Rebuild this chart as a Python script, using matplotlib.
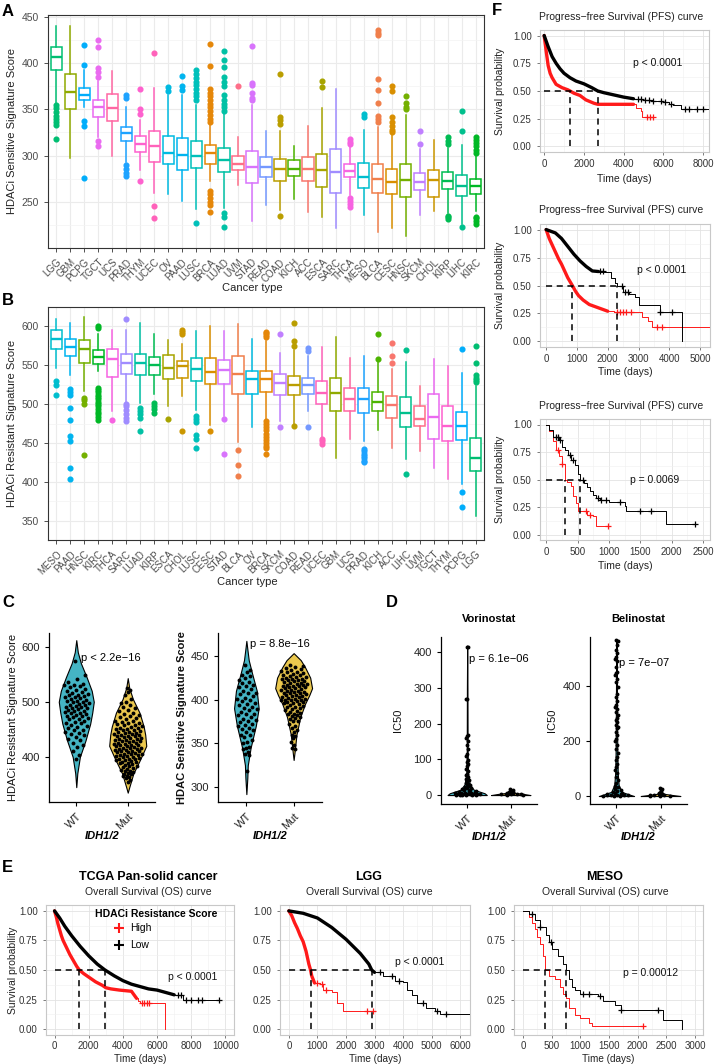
import numpy as np
import matplotlib.pyplot as plt

plt.rcParams['font.family'] = ['Liberation Sans', 'DejaVu Sans']
M = '\u2212'
W, H = 714, 1064

# ---------------- panel A : HDACi sensitive signature ----------------
a_types = ['LGG', 'GBM', 'PCPG', 'TGCT', 'UCS', 'PRAD', 'THYM', 'UCEC', 'OV', 'PAAD', 'LUSC',
           'BRCA', 'LUAD', 'UVM', 'STAD', 'READ', 'COAD', 'KICH', 'ACC', 'ESCA', 'SARC', 'THCA',
           'MESO', 'BLCA', 'CESC', 'HNSC', 'SKCM', 'CHOL', 'KIRP', 'LIHC', 'KIRC']
a_med = [407, 368.5, 366, 352.7, 351, 324, 313, 310, 303, 301, 300, 302.5, 295, 291, 287.2, 288,
         285, 285, 285, 284, 282, 283.8, 276.6, 275, 271.9, 273.7, 271.9, 273.3, 272, 267.5, 266.7]
a_q1 = [392, 350, 360, 342, 337.6, 316, 304, 293.5, 291, 284.6, 286.5, 291, 282, 284, 270.5, 277,
        273, 277.7, 273, 266, 259, 276.3, 264.8, 260, 258.1, 254.7, 263, 255.4, 263.6, 256.4, 258]
a_q3 = [417, 388.5, 373.5, 360, 367, 331, 321, 327, 321, 318.6, 316, 311, 308, 299, 305.1, 298.4,
        296.3, 295.6, 298.4, 302, 307, 291, 292, 290.4, 285.7, 291, 281.4, 284, 282.2, 278.6, 275]
a_lo = [357, 297, 352, 320, 299.6, 293, 284, 259, 258, 250.5, 242, 272, 243, 268, 229, 247,
        241, 252.6, 239, 233, 222, 257, 236, 217, 222, 213, 236, 240, 238, 226, 240]
a_hi = [440, 440, 393, 381, 391, 353, 338, 373, 366, 365, 354.5, 334, 345.5, 320, 355, 326,
        326, 310.5, 332, 351, 372, 310, 328, 331, 322, 344, 307, 317, 308, 311.5, 300.6]
a_out = [[355, 351, 347, 343, 339, 336, 333, 318], [], [420, 398, 337, 332, 276],
         [425, 417, 395, 390, 385, 316, 310], [], [365, 362, 290, 285, 281, 278],
         [372, 350, 345, 273], [411, 245, 232], [374, 370], [386, 375, 371],
         [392, 388, 384, 380, 376, 372, 368, 364, 360, 227],
         [421, 397, 372, 368, 364, 360, 356, 352, 348, 344, 340, 336, 262, 258, 254, 250, 246, 239],
         [413, 403, 396, 385, 380, 375, 365, 360, 356, 352, 348, 238, 233, 223],
         [375], [418, 378, 376, 368, 362, 360], [], [388, 342, 338, 334, 235], [], [], [381, 374], [],
         [318, 315, 312.5, 254, 251, 248, 244], [345, 342],
         [436, 433, 430, 383, 371, 357, 343, 340, 336], [375, 370, 342, 336, 332, 328, 325],
         [364, 357, 353, 350], [326, 313], [], [320, 316, 312, 235, 233, 231], [348, 326, 223],
         [320, 317, 314, 310, 306, 303, 234, 232, 229, 226]]

# ---------------- panel B : HDACi resistant signature ----------------
b_types = ['MESO', 'PAAD', 'HNSC', 'KIRC', 'THCA', 'SARC', 'LUAD', 'KIRP', 'ESCA', 'CHOL', 'LUSC',
           'CESC', 'STAD', 'BLCA', 'OV', 'BRCA', 'SKCM', 'COAD', 'READ', 'UCEC', 'GBM', 'UCS',
           'PRAD', 'KICH', 'ACC', 'LIHC', 'UVM', 'TGCT', 'THYM', 'PCPG', 'LGG']
b_med = [583.5, 574, 571, 561, 558.5, 553, 552.4, 550, 547, 549, 545.6, 540.7, 543.5, 538.7, 532.2,
         532.2, 527.4, 524.6, 524.2, 514.5, 514.9, 506, 506, 502.4, 499.2, 489.1, 480.3, 483.9,
         472.2, 471.8, 430]
b_q1 = [570.6, 562.5, 553, 551.6, 535.5, 539, 537, 537.5, 532, 533.5, 529.4, 526, 526, 513, 512.4,
        515.3, 512, 512, 513.3, 500, 491, 491, 489, 491, 482.2, 470.2, 472.2, 454.8, 453, 453.2, 414]
b_q3 = [594.8, 584, 582, 569, 570.6, 565, 565, 561, 563, 555.6, 559, 559.7, 557, 562.5, 542.7,
        542.7, 538.7, 536.7, 533.5, 529.4, 533.5, 520.2, 520.6, 515.3, 510.5, 508.5, 497.2, 512.5,
        497.2, 489.9, 456.5]
b_lo = [546, 537.5, 516.5, 542, 491, 503, 501, 513, 497, 511, 493, 473, 485, 451, 470.9, 481,
        477.7, 473, 490.6, 458, 431, 455, 452, 466, 444, 428.7, 439, 417.6, 403, 396.7, 356.4]
b_hi = [610, 604, 612, 590, 596, 596, 604, 590, 582, 578, 594, 601, 594, 603, 583.8, 581.8, 565.7,
        569.8, 561.7, 573, 585.8, 559.6, 561.7, 559.6, 545.6, 553.6, 523.4, 557.6, 549.6, 540.3, 523.4]
b_out = [[530, 525, 512], [520, 516, 512, 495, 480, 459, 452, 418, 404], [508, 505, 500, 435],
         [600, 598, 521, 518, 515, 512, 509, 506, 503, 500, 497, 494, 490, 487, 484, 480], [479],
         [610, 500, 497, 493, 487, 482, 478], [495, 491, 487, 482, 465], [502, 498, 494, 488], [481],
         [596, 593, 590, 465], [485, 481, 477, 460, 455, 444], [465], [481, 436], [441, 421, 407], [],
         [593, 591, 589, 587, 478, 474, 470, 466, 462, 458, 454, 450, 446, 444, 436], [590, 471],
         [605, 581, 575, 471.9], [571.8, 568.5, 470.9], [455, 452, 448], [], [],
         [442, 439, 436, 433, 430, 427, 425], [590, 558], [579, 562.5, 552.8], [569.7, 410], [], [], [],
         [571, 387, 368], [575, 553, 538, 534, 531, 528]]

# ---------------- panel C : violins by IDH1/2 status ----------------
c1_wt_vy = [345, 370, 400, 430, 460, 480, 500, 520, 545, 570, 590, 612]
c1_wt_vw = [0, 0.02, 0.07, 0.18, 0.27, 0.31, 0.34, 0.3, 0.2, 0.09, 0.03, 0]
c1_mut_vy = [335, 345, 370, 395, 420, 440, 455, 480, 505, 525, 543]
c1_mut_vw = [0, 0.03, 0.11, 0.24, 0.36, 0.34, 0.31, 0.23, 0.1, 0.03, 0]
c2_wt_vy = [292, 310, 325, 345, 370, 390, 410, 430, 445, 458, 467]
c2_wt_vw = [0, 0.02, 0.03, 0.09, 0.2, 0.26, 0.22, 0.12, 0.05, 0.02, 0]
c2_mut_vy = [331, 340, 360, 380, 395, 405, 413, 425, 437, 445, 453]
c2_mut_vw = [0, 0.02, 0.06, 0.14, 0.24, 0.33, 0.39, 0.35, 0.24, 0.15, 0]

c1_wt_pts = [575, 548, 541, 536, 533, 531, 530, 528, 526, 523, 521, 519, 517, 516, 515, 513, 512,
             510, 509, 508, 507, 505, 503, 502, 501, 500, 499, 497, 496, 495, 494, 493, 491, 490,
             489, 488, 487, 485, 484, 483, 482, 480, 479, 477, 476, 475, 474, 472, 470, 469, 468,
             466, 463, 462, 461, 458, 456, 455, 452, 449, 448, 446, 443, 441, 440, 436, 433, 431,
             426, 421, 418, 410, 404, 397]
c1_mut_pts = [525, 522, 517, 512, 505, 500, 497, 494, 491, 488, 485, 483, 480, 478, 476, 474, 472,
              470, 468, 466, 465, 463, 462, 461, 460, 458, 457, 456, 455, 453, 452, 451, 450, 449,
              448, 447, 446, 445, 444, 443, 442, 441, 440, 439, 438, 437, 437, 436, 435, 434, 433,
              432, 431, 430, 429, 429, 428, 427, 426, 425, 424, 423, 422, 421, 421, 420, 419, 418,
              417, 416, 416, 415, 414, 413, 412, 411, 411, 410, 409, 408, 407, 406, 406, 405, 404,
              403, 402, 401, 400, 399, 398, 397, 396, 396, 395, 394, 393, 391, 390, 389, 388, 387,
              386, 384, 383, 381, 380, 378, 377, 375, 374, 372, 371, 369, 368, 366, 365, 363, 361,
              358, 355]
c2_wt_pts = [440, 434, 431, 428, 427, 425, 422, 420, 419, 417, 415, 414, 412, 410, 408, 407, 406,
             404, 402, 401, 400, 398, 396, 395, 394, 392, 390, 389, 388, 386, 384, 383, 382, 380,
             378, 377, 376, 374, 372, 371, 370, 368, 366, 365, 363, 360, 359, 357, 354, 352, 350,
             346, 345, 343, 340, 338, 337, 318]
c2_mut_pts = [440, 438, 437, 436, 435, 434, 433, 432, 431, 430, 429, 428, 428, 427, 426, 426, 425,
              424, 424, 423, 422, 422, 421, 421, 420, 419, 419, 418, 418, 417, 417, 416, 415, 415,
              414, 414, 413, 413, 412, 411, 411, 410, 410, 409, 409, 408, 407, 407, 406, 405, 405,
              404, 404, 403, 403, 402, 401, 401, 400, 400, 399, 399, 398, 397, 397, 396, 396, 395,
              394, 393, 392, 391, 390, 389, 388, 387, 386, 385, 384, 383, 382, 381, 380, 379, 378,
              376, 375, 372, 370, 368, 365, 363, 360, 358, 356, 352, 348, 345, 343]

# ---------------- panel D : IC50 ----------------
vor_wt_vy = [0, 5, 15, 30, 60, 120, 200, 300, 418]
vor_wt_vw = [0.45, 0.4, 0.15, 0.06, 0.02, 0.01, 0.008, 0.006, 0]
vor_mut_vy = [0, 3, 6, 10, 16]
vor_mut_vw = [0.45, 0.3, 0.1, 0.04, 0]
bel_wt_vy = [0, 5, 15, 40, 80, 150, 250, 400, 570]
bel_wt_vw = [0.4, 0.3, 0.12, 0.05, 0.03, 0.02, 0.015, 0.01, 0]
bel_mut_vy = [0, 3, 8, 15, 28]
bel_mut_vw = [0.45, 0.3, 0.08, 0.03, 0]

vor_wt_pts = [415, 413, 270, 268, 168, 165, 160, 152, 140, 128, 115, 110, 98, 92, 88, 80, 74, 66,
              60, 55, 50, 46, 42, 38, 35, 32, 30, 28, 25, 23, 21, 19, 17, 15, 13, 12, 10, 9, 8, 7,
              6, 5, 5, 4, 4, 3, 3, 2, 2, 2, 1, 1, 1, 0.5, 0.5, 0.3]
vor_mut_pts = [16, 13, 11, 9, 8, 7, 6, 5, 4, 3, 3, 2, 2, 1, 1]
bel_wt_pts = [568, 565, 548, 532, 520, 505, 498, 492, 470, 452, 447, 440, 425, 416, 398, 372, 360,
              345, 331, 325, 318, 305, 296, 285, 277, 270, 258, 252, 247, 234, 222, 207, 200, 185,
              172, 155, 142, 130, 118, 104, 94, 82, 70, 57, 46, 38, 33, 27, 22, 18, 15, 12, 10, 8,
              6, 5, 4, 3, 2, 2, 1, 1, 0.5]
bel_mut_pts = [28, 24, 18, 12, 9, 6, 4, 3, 2, 1, 1, 0.5]

# ---------------- panel E : overall survival ----------------
e1_hi_t = [0, 100, 200, 300, 400, 500, 700, 900, 1100, 1300, 1450, 1700, 2000, 2400, 2800, 3000,
           3300, 3800, 4500, 4700, 4900, 5000, 6400, 6450]
e1_hi_s = [1, 0.95, 0.89, 0.84, 0.79, 0.75, 0.69, 0.63, 0.58, 0.53, 0.50, 0.47, 0.44, 0.40, 0.37,
           0.35, 0.34, 0.33, 0.32, 0.28, 0.24, 0.22, 0.22, 0.0]
e1_hi_cens = [5100, 5250, 5400, 5550]
e1_lo_t = [0, 300, 600, 1000, 1500, 2000, 2500, 2950, 3500, 4000, 4500, 5000, 5500, 6000, 6500,
           7000, 7500, 9600]
e1_lo_s = [1, 0.94, 0.87, 0.79, 0.70, 0.62, 0.55, 0.50, 0.45, 0.41, 0.38, 0.36, 0.34, 0.33, 0.31,
           0.29, 0.25, 0.25]
e1_lo_cens = [7200, 7400, 7700, 8000, 8400, 8600, 9600]

e2_hi_t = [0, 100, 200, 300, 400, 500, 600, 700, 760, 800, 900, 1100, 1200, 1500, 1700, 1900, 3000]
e2_hi_s = [1, 0.96, 0.9, 0.85, 0.79, 0.74, 0.66, 0.55, 0.50, 0.45, 0.39, 0.38, 0.33, 0.31, 0.22,
           0.15, 0.15]
e2_hi_cens = [1000, 1150, 1300, 2750, 2950]
e2_lo_t = [0, 500, 1000, 1500, 2000, 2500, 2800, 2900, 3000, 3300, 3700, 4000, 4150, 4300, 4500,
           4800, 5100, 5300, 6300]
e2_lo_s = [1, 0.98, 0.94, 0.86, 0.76, 0.64, 0.55, 0.50, 0.48, 0.45, 0.41, 0.40, 0.33, 0.29, 0.22,
           0.18, 0.15, 0.13, 0.13]
e2_lo_cens = [3200, 3600, 3850, 4700, 5200, 5500]

e3_hi_t = [0, 100, 150, 200, 250, 300, 350, 380, 450, 550, 650, 700, 750, 800, 900, 1000, 1150,
           1200, 2100]
e3_hi_s = [1, 0.95, 0.90, 0.85, 0.78, 0.72, 0.62, 0.50, 0.45, 0.42, 0.36, 0.30, 0.26, 0.18, 0.12,
           0.09, 0.05, 0.03, 0.03]
e3_hi_cens = [2100]
e3_lo_t = [0, 100, 200, 300, 400, 450, 500, 600, 700, 750, 800, 850, 900, 1000, 1300, 1400, 1600,
           1700, 2450, 2780]
e3_lo_s = [1, 0.97, 0.92, 0.86, 0.80, 0.74, 0.68, 0.62, 0.55, 0.50, 0.42, 0.36, 0.33, 0.30, 0.28,
           0.24, 0.20, 0.16, 0.08, 0.0]
e3_lo_cens = [150, 300, 480, 1050, 1150, 1350, 1700, 2350]

# ---------------- panel F : progression-free survival ----------------
f1_hi_t = [0, 100, 200, 300, 400, 600, 900, 1200, 1300, 1500, 1800, 2100, 2500, 2700, 4500, 4600,
           4900, 4950, 5500]
f1_hi_s = [1, 0.86, 0.73, 0.66, 0.62, 0.56, 0.53, 0.51, 0.50, 0.48, 0.46, 0.42, 0.39, 0.38, 0.38,
           0.35, 0.32, 0.27, 0.27]
f1_hi_cens = [5200, 5350, 5500]
f1_lo_t = [0, 200, 400, 600, 800, 1000, 1300, 1600, 2000, 2400, 2700, 3000, 3500, 4000, 4500, 5000,
           5500, 6000, 6300, 6500, 6900, 8300]
f1_lo_s = [1, 0.90, 0.81, 0.75, 0.70, 0.66, 0.62, 0.59, 0.565, 0.53, 0.50, 0.485, 0.465, 0.445, 0.43,
           0.42, 0.41, 0.40, 0.38, 0.37, 0.34, 0.34]
f1_lo_cens = [4700, 4900, 5100, 5300, 5500, 5900, 6100, 6400, 7100, 7300, 7700, 8000]

f2_hi_t = [0, 100, 200, 300, 400, 500, 600, 700, 850, 950, 1050, 1200, 1400, 1600, 1800, 2000, 2200,
           3000, 3100, 3300, 3450, 5300]
f2_hi_s = [1, 0.92, 0.86, 0.80, 0.74, 0.69, 0.63, 0.57, 0.50, 0.45, 0.41, 0.37, 0.33, 0.31, 0.29,
           0.27, 0.26, 0.26, 0.22, 0.18, 0.13, 0.13]
f2_hi_cens = [2300, 2400, 2500, 2600, 2750, 3600, 3750]
f2_lo_t = [0, 300, 500, 700, 900, 1100, 1300, 1500, 1900, 2100, 2250, 2300, 2500, 2700, 2900, 3000,
           3500, 3700, 4400, 4420]
f2_lo_s = [1, 0.97, 0.92, 0.85, 0.78, 0.72, 0.67, 0.63, 0.62, 0.57, 0.52, 0.50, 0.44, 0.42, 0.40,
           0.33, 0.33, 0.26, 0.26, 0.0]
f2_lo_cens = [1750, 1850, 2450, 2550, 2650, 3700, 4100]

f3_hi_t = [0, 50, 100, 150, 200, 250, 300, 330, 400, 430, 470, 500, 650, 750, 800, 990]
f3_hi_s = [1, 0.94, 0.85, 0.77, 0.71, 0.64, 0.50, 0.48, 0.44, 0.35, 0.29, 0.21, 0.18, 0.17, 0.08, 0.08]
f3_hi_cens = [190, 250, 630, 690, 990]
f3_lo_t = [0, 50, 100, 200, 250, 300, 350, 400, 450, 500, 530, 600, 650, 700, 750, 800, 850, 1000,
           1250, 1270, 1900, 1910, 2370]
f3_lo_s = [1, 0.95, 0.89, 0.86, 0.80, 0.77, 0.72, 0.68, 0.63, 0.55, 0.50, 0.47, 0.43, 0.40, 0.36,
           0.33, 0.31, 0.30, 0.26, 0.21, 0.21, 0.10, 0.10]
f3_lo_cens = [150, 180, 220, 380, 420, 580, 830, 870, 960, 1180, 1500, 1670, 2370]

WT_COL = '#45B5C4'
MUT_COL = '#EBC84E'
HI_COL = '#FF1A1A'


def hue_pal(n):
    # ggplot2 default hue palette (HCL, l=65, c=100)
    out = []
    Xn, Yn, Zn = 95.047, 100.0, 108.883
    den = Xn + 15 * Yn + 3 * Zn
    un, vn = 4 * Xn / den, 9 * Yn / den
    for i in range(n):
        h = np.deg2rad(15 + 360 * i / n)
        L, C = 65.0, 100.0
        u = C * np.cos(h) / (13 * L) + un
        v = C * np.sin(h) / (13 * L) + vn
        Y = Yn * ((L + 16) / 116) ** 3
        X = Y * 9 * u / (4 * v)
        Z = Y * (12 - 3 * u - 20 * v) / (4 * v)
        X, Y, Z = X / 100, Y / 100, Z / 100
        rgb = [3.240479 * X - 1.537150 * Y - 0.498535 * Z,
               -0.969256 * X + 1.875992 * Y + 0.041556 * Z,
               0.055648 * X - 0.204043 * Y + 1.057311 * Z]
        rgb = [12.92 * c if c <= 0.0031308 else 1.055 * c ** (1 / 2.4) - 0.055 for c in rgb]
        out.append(tuple(min(1, max(0, c)) for c in rgb))
    return out


PAL = dict(zip(sorted(a_types), hue_pal(len(a_types))))


def add_ax(fig, l, t, r, b):
    return fig.add_axes([l / W, 1 - b / H, (r - l) / W, (b - t) / H])


def box_panel(ax, types, med, q1, q3, lo, hi, outs, ylim, yticks, ylabel):
    for i, name in enumerate(types):
        c = PAL[name]
        st = dict(med=med[i], q1=q1[i], q3=q3[i], whislo=lo[i], whishi=hi[i], fliers=outs[i])
        ax.bxp([st], positions=[i + 1], widths=0.8, showcaps=False, patch_artist=True,
               boxprops=dict(facecolor='white', edgecolor=c, lw=1.1),
               medianprops=dict(color=c, lw=1.7),
               whiskerprops=dict(color=c, lw=1.1),
               flierprops=dict(marker='o', markerfacecolor=c, markeredgecolor=c, markersize=3.4))
    n = len(types)
    ax.set_xlim(0.4, n + 0.6)
    ax.set_ylim(*ylim)
    ax.set_yticks(yticks)
    ax.set_yticks([y + 25 for y in yticks[:-1]] + [yticks[0] - 25], minor=True)
    ax.set_xticks(range(1, n + 1))
    ax.set_xticklabels(types, rotation=45, ha='right', va='top', rotation_mode='anchor',
                       fontsize=7, color='#4D4D4D')
    ax.tick_params(axis='y', labelsize=7.5, labelcolor='#4D4D4D', length=3, width=0.6, color='#333333')
    ax.tick_params(axis='x', length=3, width=0.6, color='#333333')
    ax.tick_params(which='minor', length=0)
    ax.grid(which='major', color='#EBEBEB', lw=0.8)
    ax.grid(which='minor', axis='y', color='#F3F3F3', lw=0.5)
    ax.set_axisbelow(True)
    for s in ax.spines.values():
        s.set_color('#333333')
        s.set_linewidth(0.8)
    ax.set_ylabel(ylabel, fontsize=8, color='#222222')
    ax.yaxis.set_label_coords(-0.071, 0.5)


def violin(ax, x, vy, vw, pts, color, jmin, jmax):
    vy = np.asarray(vy, float)
    vw = np.asarray(vw, float)
    ax.fill_betweenx(vy, x - vw, x + vw, facecolor=color, edgecolor='black', lw=0.8, zorder=2)
    pts = np.asarray(pts, float)
    u = ((np.arange(len(pts)) * 0.6180339887 + 0.31) % 1) * 2 - 1
    jw = np.clip(np.interp(pts, vy, vw), jmin, jmax)
    ax.plot(x + u * jw, pts, 'o', color='black', ms=2.8, mew=0, zorder=3)


def classic(ax, ylim, yticks, ylabel, lx, bold=False, xlim=(0.4, 2.6)):
    ax.set_xlim(*xlim)
    ax.set_ylim(*ylim)
    ax.set_yticks(yticks)
    ax.set_xticks([1, 2])
    ax.set_xticklabels(['WT', 'Mut'], rotation=45, ha='right', va='top', rotation_mode='anchor',
                       fontsize=8, color='#222222')
    ax.tick_params(axis='y', labelsize=8, labelcolor='#222222')
    ax.tick_params(length=3, width=0.8, color='black')
    for s in ['top', 'right']:
        ax.spines[s].set_visible(False)
    for s in ['left', 'bottom']:
        ax.spines[s].set_linewidth(0.9)
    ax.set_ylabel(ylabel, fontsize=8, fontweight='bold' if bold else 'normal', color='#111111')
    ax.yaxis.set_label_coords(lx, 0.5)
    ax.set_xlabel('IDH1/2', fontsize=8, fontweight='bold', fontstyle='italic')
    ax.xaxis.set_label_coords(0.5, -0.17)


def surv_at(t, s, x):
    return s[max(0, np.searchsorted(t, x, side='right') - 1)]


def surv_panel(ax, curves, xlim, xstep, xmax_tick, ptxt, px, py, ylab=None, ylx=-0.2, xly=-0.2,
               xfs=7.5, tpad=2.5):
    meds = []
    for t, s, col, thick_to, cens in curves:
        t = np.asarray(t, float)
        s = np.asarray(s, float)
        if thick_to:
            # many censored samples: drawn as a heavy, smooth band
            m = t <= thick_to
            y_end = np.interp(thick_to, t, s)
            ax.plot(list(t[m]) + [thick_to], list(s[m]) + [y_end], color=col, lw=2.4,
                    solid_capstyle='round', solid_joinstyle='round', zorder=3)
            rest = t > thick_to
            ax.step([thick_to] + list(t[rest]), [y_end] + list(s[rest]), where='post',
                    color=col, lw=0.7, zorder=3)
        else:
            ax.step(t, s, where='post', color=col, lw=0.7, zorder=3)
        if cens:
            ax.plot(cens, [surv_at(t, s, c) for c in cens], '+', color=col, ms=4.5, mew=0.9, zorder=4)
        meds.append(t[np.argmax(s <= 0.5)])
    ax.plot([0, max(meds)], [0.5, 0.5], color='black', lw=1.1, dashes=(4, 3), zorder=5)
    for m in meds:
        ax.plot([m, m], [0, 0.5], color='black', lw=1.1, dashes=(4, 3), zorder=5)
    ax.set_xlim(*xlim)
    ax.set_ylim(-0.05, 1.05)
    xt = list(range(0, xmax_tick + 1, xstep))
    ax.set_xticks(xt)
    ax.set_xticks([x + xstep / 2 for x in xt[:-1]], minor=True)
    ax.set_yticks([0, 0.25, 0.5, 0.75, 1.0])
    ax.set_yticklabels(['0.00', '0.25', '0.50', '0.75', '1.00'])
    ax.set_yticks([0.125, 0.375, 0.625, 0.875], minor=True)
    ax.tick_params(labelsize=7, labelcolor='#333333', length=2.5, width=0.6, color='#666666')
    ax.tick_params(axis='x', pad=tpad)
    ax.tick_params(which='minor', length=0)
    ax.grid(which='major', color='#E3E3E3', lw=0.6)
    ax.grid(which='minor', color='#F0F0F0', lw=0.4)
    ax.set_axisbelow(True)
    for s in ax.spines.values():
        s.set_color('#C8C8C8')
        s.set_linewidth(0.8)
    ax.text(px, py, ptxt, fontsize=7.5, ha='left', va='center', color='#111111')
    ax.set_xlabel('Time (days)', fontsize=xfs, color='#222222')
    ax.xaxis.set_label_coords(0.5, xly)
    if ylab:
        ax.set_ylabel(ylab, fontsize=7.5, color='#222222')
        ax.yaxis.set_label_coords(ylx, 0.5)


fig = plt.figure(figsize=(W / 100, H / 100), dpi=100)

# ---- A ----
axA = add_ax(fig, 48, 15, 484, 248)
box_panel(axA, a_types, a_med, a_q1, a_q3, a_lo, a_hi, a_out, (200, 452),
          [250, 300, 350, 400, 450], 'HDACi Sensitive Signature Score')
fig.text(252 / W, 1 - 288 / H, 'Cancer type', ha='center', va='center', fontsize=8, color='#222222')

# ---- B ----
axB = add_ax(fig, 48, 307, 484, 540)
box_panel(axB, b_types, b_med, b_q1, b_q3, b_lo, b_hi, b_out, (345, 625),
          [350, 400, 450, 500, 550, 600], 'HDACi Resistant Signature Score')
fig.text(247 / W, 1 - 582 / H, 'Cancer type', ha='center', va='center', fontsize=8, color='#222222')

# ---- C ----
axC1 = add_ax(fig, 49, 633, 155, 802)
violin(axC1, 1, c1_wt_vy, c1_wt_vw, c1_wt_pts, WT_COL, 0.05, 0.24)
violin(axC1, 2, c1_mut_vy, c1_mut_vw, c1_mut_pts, MUT_COL, 0.05, 0.28)
classic(axC1, (318, 625), [400, 500, 600], 'HDACi Resistant Signature Score', -0.29,
        xlim=(0.47, 2.53))
axC1.text(1.1, 580, 'p < 2.2e' + M + '16', fontsize=8, va='center', ha='left')

axC2 = add_ax(fig, 218, 633, 322, 802)
violin(axC2, 1, c2_wt_vy, c2_wt_vw, c2_wt_pts, WT_COL, 0.05, 0.22)
violin(axC2, 2, c2_mut_vy, c2_mut_vw, c2_mut_pts, MUT_COL, 0.05, 0.28)
classic(axC2, (283, 476), [300, 350, 400, 450], 'HDAC Sensitive Signature Score', -0.30, bold=True)
axC2.text(1.08, 464, 'p = 8.8e' + M + '16', fontsize=8, va='center', ha='left')

# ---- D ----
axD1 = add_ax(fig, 441, 637, 537, 804)
violin(axD1, 1, vor_wt_vy, vor_wt_vw, vor_wt_pts, WT_COL, 0.03, 0.3)
violin(axD1, 2, vor_mut_vy, vor_mut_vw, vor_mut_pts, MUT_COL, 0.05, 0.3)
classic(axD1, (-25, 442), [0, 100, 200, 300, 400], 'IC50', -0.4)
axD1.set_title('Vorinostat', fontsize=8, fontweight='bold', pad=11)
axD1.text(1.05, 380, 'p = 6.1e' + M + '06', fontsize=8, va='center', ha='left')

axD2 = add_ax(fig, 590, 637, 687, 804)
violin(axD2, 1, bel_wt_vy, bel_wt_vw, bel_wt_pts, WT_COL, 0.03, 0.3)
violin(axD2, 2, bel_mut_vy, bel_mut_vw, bel_mut_pts, MUT_COL, 0.05, 0.3)
classic(axD2, (-29, 578), [0, 200, 400], 'IC50', -0.34)
axD2.set_title('Belinostat', fontsize=8, fontweight='bold', pad=11)
axD2.text(1.05, 485, 'p = 7e' + M + '07', fontsize=8, va='center', ha='left')

# ---- E ----
axE1 = add_ax(fig, 46, 905, 234, 1035)
surv_panel(axE1, [(e1_hi_t, e1_hi_s, HI_COL, 4800, e1_hi_cens),
                  (e1_lo_t, e1_lo_s, 'black', 7000, e1_lo_cens)],
           (-500, 10500), 2000, 10000, 'p < 0.0001', 6650, 0.44,
           ylab='Survival probability', ylx=-0.15, xly=-0.145, xfs=7.2, tpad=1.8)
axE1.text(0.26, 0.93, 'HDACi Resistance Score', transform=axE1.transAxes, fontsize=7.5,
          fontweight='bold', va='center', ha='left')
axE1.plot([0.39], [0.82], '+', color=HI_COL, ms=7, mew=1.5, transform=axE1.transAxes)
axE1.text(0.45, 0.82, 'High', transform=axE1.transAxes, fontsize=7.5, va='center')
axE1.plot([0.39], [0.69], '+', color='black', ms=7, mew=1.5, transform=axE1.transAxes)
axE1.text(0.45, 0.69, 'Low', transform=axE1.transAxes, fontsize=7.5, va='center')

axE2 = add_ax(fig, 280, 905, 470, 1035)
surv_panel(axE2, [(e2_hi_t, e2_hi_s, HI_COL, 900, e2_hi_cens),
                  (e2_lo_t, e2_lo_s, 'black', 3000, e2_lo_cens)],
           (-310, 6340), 1000, 6000, 'p < 0.0001', 3720, 0.57, xly=-0.145, xfs=7.2, tpad=1.8)

axE3 = add_ax(fig, 514, 905, 703, 1035)
surv_panel(axE3, [(e3_hi_t, e3_hi_s, HI_COL, 0, e3_hi_cens),
                  (e3_lo_t, e3_lo_s, 'black', 0, e3_lo_cens)],
           (-160, 3140), 500, 3000, 'p = 0.00012', 1740, 0.475, xly=-0.145, xfs=7.2, tpad=1.8)

for cx, t1 in [(148, 'TCGA Pan-solid cancer'), (369, 'LGG'), (605, 'MESO')]:
    fig.text(cx / W, 1 - 877 / H, t1, ha='center', va='center', fontsize=9, fontweight='bold')
    fig.text(cx / W, 1 - 892 / H, 'Overall Survival (OS) curve', ha='center', va='center',
             fontsize=7.5, color='#222222')

# ---- F ----
axF1 = add_ax(fig, 540, 30, 709, 152)
surv_panel(axF1, [(f1_hi_t, f1_hi_s, HI_COL, 4500, f1_hi_cens),
                  (f1_lo_t, f1_lo_s, 'black', 4500, f1_lo_cens)],
           (-210, 8300), 2000, 8000, 'p < 0.0001', 4480, 0.75,
           ylab='Survival probability', ylx=-0.207, xly=-0.18)
axF2 = add_ax(fig, 540, 224, 710, 347)
surv_panel(axF2, [(f2_hi_t, f2_hi_s, HI_COL, 2000, f2_hi_cens),
                  (f2_lo_t, f2_lo_s, 'black', 1700, f2_lo_cens)],
           (-200, 5320), 1000, 5000, 'p < 0.0001', 2950, 0.64,
           ylab='Survival probability', ylx=-0.207, xly=-0.163)
axF3 = add_ax(fig, 540, 419, 710, 540)
surv_panel(axF3, [(f3_hi_t, f3_hi_s, HI_COL, 0, f3_hi_cens),
                  (f3_lo_t, f3_lo_s, 'black', 0, f3_lo_cens)],
           (-100, 2610), 500, 2500, 'p = 0.0069', 1340, 0.50,
           ylab='Survival probability', ylx=-0.207, xly=-0.174)
for cy in [17, 210, 406]:
    fig.text(621 / W, 1 - cy / H, 'Progress' + M + 'free Survival (PFS) curve', ha='center',
             va='center', fontsize=7.5, color='#222222')

# ---- panel letters ----
for lab, x, y in [('A', 2, 4), ('B', 2, 293), ('C', 2, 595), ('D', 386, 595), ('E', 2, 860),
                  ('F', 492, 3)]:
    fig.text(x / W, 1 - y / H, lab, ha='left', va='top', fontsize=12, fontweight='bold')

fig.savefig('out.png', dpi=100)
